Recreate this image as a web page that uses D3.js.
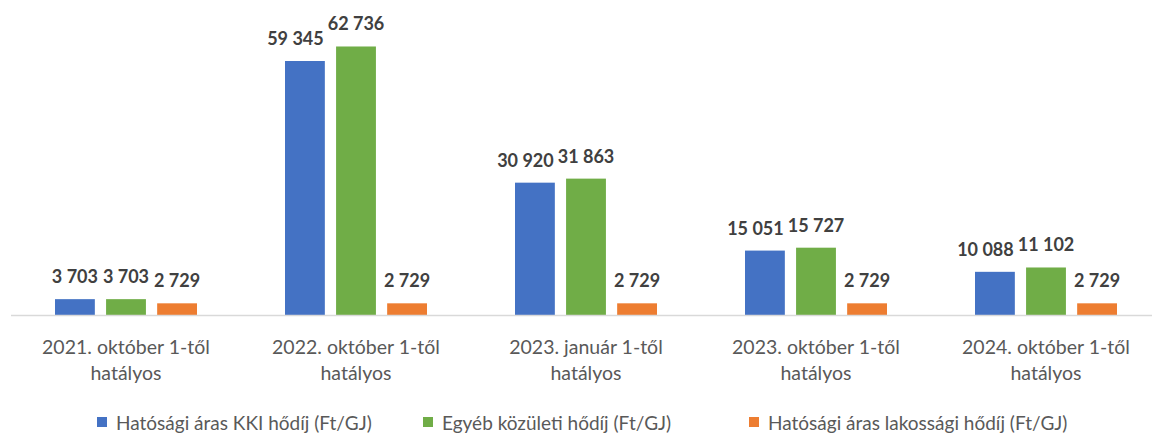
<!DOCTYPE html>
<html>
<head>
<meta charset="utf-8">
<script src="https://cdn.jsdelivr.net/npm/d3@7"></script>
<style>
  body { margin: 0; background: #fff; }
  svg { display: block; font-family: Lato, "Open Sans", sans-serif; }
</style>
</head>
<body>
<div id="chart"></div>
<script>
// chart size
var width = 1152;
var height = 434;

// data
var categories = [
  ["2021. október 1-től", "hatályos"],
  ["2022. október 1-től", "hatályos"],
  ["2023. január 1-től", "hatályos"],
  ["2023. október 1-től", "hatályos"],
  ["2024. október 1-től", "hatályos"]
];
var seriesNames = [
  "Hatósági áras KKI hődíj (Ft/GJ)",
  "Egyéb közületi hődíj (Ft/GJ)",
  "Hatósági áras lakossági hődíj (Ft/GJ)"
];
var kkiValues = [3703, 59345, 30920, 15051, 10088];
var kozuletiValues = [3703, 62736, 31863, 15727, 11102];
var lakossagiValues = [2729, 2729, 2729, 2729, 2729];
var colors = ["#4472C4", "#70AD47", "#ED7D31"];

var series = [kkiValues, kozuletiValues, lakossagiValues];

var svg = d3.select("#chart").append("svg")
  .attr("width", width)
  .attr("height", height);

var baseY = 315;

var x0 = d3.scaleBand()
  .domain(d3.range(categories.length))
  .range([11, 1161])
  .paddingInner(0)
  .paddingOuter(0);

var x1 = d3.scaleBand()
  .domain(d3.range(series.length))
  .range([x0.bandwidth() / 2 - 71, x0.bandwidth() / 2 + 71])
  .paddingInner(0.22)
  .paddingOuter(0);

var y = d3.scaleLinear()
  .domain([0, 70000])
  .range([baseY, baseY - 299.6]);

// flatten to one record per bar
var bars = [];
categories.forEach(function (c, i) {
  series.forEach(function (s, j) {
    bars.push({cat: i, ser: j, value: s[i]});
  });
});

var fmt = function (v) {
  return d3.format(",")(v).replace(/,/g, " ");
};

svg.selectAll("rect.bar")
  .data(bars)
  .enter()
  .append("rect")
  .attr("class", "bar")
  .attr("x", function (d) { return x0(d.cat) + x1(d.ser); })
  .attr("y", function (d) { return y(d.value); })
  .attr("width", x1.bandwidth())
  .attr("height", function (d) { return baseY - y(d.value); })
  .style("fill", function (d) { return colors[d.ser]; });

// axis line
svg.append("line")
  .attr("x1", 11)
  .attr("x2", width)
  .attr("y1", baseY + 0.5)
  .attr("y2", baseY + 0.5)
  .style("stroke", "#d9d9d9")
  .style("stroke-width", 1.5);

// value labels
var labels = svg.selectAll("text.val")
  .data(bars)
  .enter()
  .append("text")
  .attr("class", "val")
  .attr("x", function (d) { return x0(d.cat) + x1(d.ser) + x1.bandwidth() / 2; })
  .attr("y", function (d) { return y(d.value) - 16; })
  .attr("text-anchor", "middle")
  .style("font-size", "18px")
  .style("font-weight", "bold")
  .style("fill", "#404040")
  .text(function (d) { return fmt(d.value); });

// push overlapping labels in a group apart (leftmost goes left)
categories.forEach(function (c, i) {
  var grp = labels.filter(function (d) { return d.cat == i; }).nodes();
  for (var k = grp.length - 1; k > 0; k--) {
    var a = grp[k - 1].getBBox(), b = grp[k].getBBox();
    var vert = a.y < b.y + b.height - 4 && b.y < a.y + a.height - 4;
    var over = a.x + a.width + 4 - b.x;
    if (vert && over > 0) {
      d3.select(grp[k - 1]).attr("x", +grp[k - 1].getAttribute("x") - over);
    }
  }
});

// category labels
var ticks = svg.selectAll("text.tick")
  .data(categories)
  .enter()
  .append("text")
  .attr("class", "tick")
  .attr("text-anchor", "middle")
  .style("font-size", "19.5px")
  .style("fill", "#595959");

ticks.each(function (d, i) {
  var t = d3.select(this);
  d.forEach(function (line, k) {
    t.append("tspan")
      .attr("x", x0(i) + x0.bandwidth() / 2)
      .attr("y", 354 + k * 26)
      .text(line);
  });
});

// legend
var legend = svg.selectAll("g.legend")
  .data(seriesNames)
  .enter()
  .append("g")
  .attr("class", "legend")
  .attr("transform", function (d, i) { return "translate(" + (97 + i * 326) + ",417)"; });

legend.append("rect")
  .attr("width", 10)
  .attr("height", 10)
  .style("fill", function (d, i) { return colors[i]; });

legend.append("text")
  .attr("x", 19)
  .attr("y", 13)
  .style("font-size", "19px")
  .style("fill", "#595959")
  .text(function (d) { return d; });
</script>
</body>
</html>
